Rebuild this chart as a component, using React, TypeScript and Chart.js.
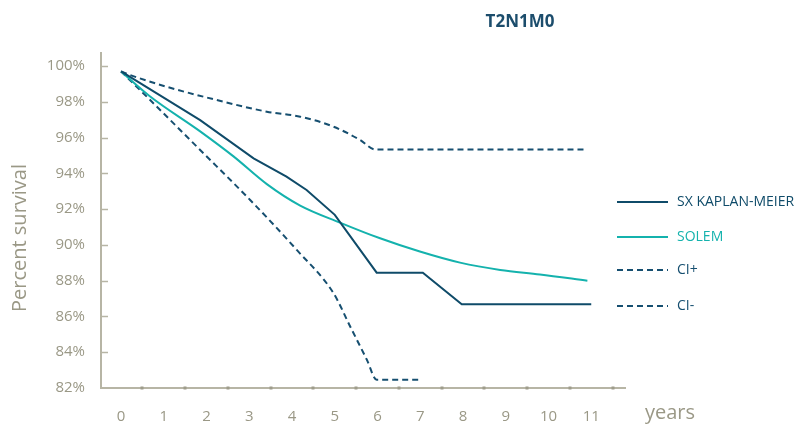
import React, { useEffect, useRef } from "react";
import { Chart, registerables } from "chart.js";

Chart.register(...registerables);

// ---------- data ----------
const kmYears = [0, 1.85, 3.1, 3.87, 4.34, 5.0, 5.98, 7.06, 7.97, 11.0];
const kmSurvival = [99.7, 96.98, 94.84, 93.82, 93.07, 91.68, 88.45, 88.45, 86.68, 86.68];

const solemYears = [0, 0.68, 1.85, 2.63, 3.41, 4.19, 5.12, 6.06, 6.99, 7.93, 8.87, 9.8, 10.91];
const solemSurvival = [99.7, 98.3, 96.35, 94.95, 93.4, 92.2, 91.25, 90.37, 89.63, 89.01, 88.6, 88.35, 88.0];

const ciPlusYears = [0, 0.21, 1.07, 2.24, 3.41, 4.19, 4.97, 5.59, 5.95, 10.91];
const ciPlusSurvival = [99.7, 99.5, 98.84, 98.1, 97.45, 97.17, 96.61, 95.87, 95.33, 95.33];

const ciMinusYears = [0, 0.68, 1.85, 3.02, 4.11, 4.97, 5.36, 5.75, 5.98, 6.98];
const ciMinusSurvival = [99.7, 98.1, 95.31, 92.51, 89.72, 87.3, 85.44, 83.58, 82.46, 82.46];

const seriesLabels = ["SX KAPLAN-MEIER", "SOLEM", "CI+", "CI-"];
const yTickValues = [82, 84, 86, 88, 90, 92, 94, 96, 98, 100];
const xTickValues = [0, 1, 2, 3, 4, 5, 6, 7, 8, 9, 10, 11];
const xDotValues = [0.5, 1.5, 2.5, 3.5, 4.5, 5.5, 6.5, 7.5, 8.5, 9.5, 10.5, 11.5];
const titleText = "T2N1M0";
const yTitleText = "Percent survival";
const xTitleText = "years";

// ---------- style ----------
const NAVY = "#0f4b69";
const CI_NAVY = "#164f70";
const TEAL = "#14b2ad";
const GRAY_TEXT = "#9a9886";
const AXIS = "#b7b5a5";
const DOT = "#9e9c8b";
const FONT = "'Open Sans', 'Noto Sans', sans-serif";

const toPoints = (xs: number[], ys: number[]) => xs.map((x, i) => ({ x, y: ys[i] }));

const decorPlugin = {
  id: "decor",
  afterDraw(chart: any) {
    const { ctx, chartArea } = chart;
    const x = chart.scales.x;
    const y = chart.scales.y;
    ctx.save();

    // inner y tick marks
    ctx.strokeStyle = AXIS;
    ctx.lineWidth = 1.5;
    yTickValues.forEach((v) => {
      if (v === 82) return;
      const py = Math.round(y.getPixelForValue(v)) + 0.5;
      ctx.beginPath();
      ctx.moveTo(chartArea.left + 1, py);
      ctx.lineTo(chartArea.left + 7, py);
      ctx.stroke();
    });

    // x axis dots
    ctx.fillStyle = DOT;
    xDotValues.forEach((v) => {
      const px = x.getPixelForValue(v);
      ctx.fillRect(Math.round(px) - 1.5, chartArea.bottom - 1.5, 3, 3);
    });

    // title
    ctx.fillStyle = "#1c4d6c";
    ctx.font = `bold 17px ${FONT}`;
    ctx.textAlign = "center";
    ctx.textBaseline = "middle";
    ctx.fillText(titleText, 520, 22);

    // y title
    ctx.save();
    ctx.translate(20, 238);
    ctx.rotate(-Math.PI / 2);
    ctx.fillStyle = GRAY_TEXT;
    ctx.font = `20px ${FONT}`;
    ctx.textAlign = "center";
    ctx.textBaseline = "middle";
    ctx.fillText(yTitleText, 0, 0);
    ctx.restore();

    // x title
    ctx.fillStyle = GRAY_TEXT;
    ctx.font = `20px ${FONT}`;
    ctx.textAlign = "left";
    ctx.textBaseline = "alphabetic";
    ctx.fillText(xTitleText, 645, 419);

    // legend
    const legendY = [202, 237, 270, 306];
    chart.data.datasets.forEach((ds: any, i: number) => {
      const ly = legendY[i];
      ctx.strokeStyle = ds.borderColor;
      ctx.lineWidth = 2;
      ctx.setLineDash(ds.borderDash || []);
      ctx.beginPath();
      ctx.moveTo(617, ly);
      ctx.lineTo(668, ly);
      ctx.stroke();
      ctx.setLineDash([]);
      ctx.fillStyle = ds.borderColor;
      ctx.font = `14px ${FONT}`;
      ctx.textAlign = "left";
      ctx.textBaseline = "middle";
      ctx.fillText(seriesLabels[i], 677, ly);
    });

    ctx.restore();
  },
};

export default function App() {
  const canvasRef = useRef<HTMLCanvasElement | null>(null);

  useEffect(() => {
    if (!canvasRef.current) return;
    const chart = new Chart(canvasRef.current, {
      type: "line",
      data: {
        datasets: [
          {
            label: seriesLabels[0],
            data: toPoints(kmYears, kmSurvival),
            borderColor: NAVY,
            borderWidth: 2,
            pointRadius: 0,
            tension: 0,
            fill: false,
          },
          {
            label: seriesLabels[1],
            data: toPoints(solemYears, solemSurvival),
            borderColor: TEAL,
            borderWidth: 2,
            pointRadius: 0,
            cubicInterpolationMode: "monotone",
            fill: false,
          },
          {
            label: seriesLabels[2],
            data: toPoints(ciPlusYears, ciPlusSurvival),
            borderColor: CI_NAVY,
            borderWidth: 2,
            borderDash: [6, 4],
            pointRadius: 0,
            cubicInterpolationMode: "monotone",
            fill: false,
          },
          {
            label: seriesLabels[3],
            data: toPoints(ciMinusYears, ciMinusSurvival),
            borderColor: CI_NAVY,
            borderWidth: 2,
            borderDash: [6, 4],
            pointRadius: 0,
            cubicInterpolationMode: "monotone",
            fill: false,
          },
        ],
      },
      options: {
        animation: false,
        responsive: false,
        maintainAspectRatio: false,
        layout: { padding: { left: 0, right: 182, top: 53, bottom: 0 } },
        plugins: {
          legend: { display: false },
          title: { display: false },
          tooltip: { enabled: false },
        },
        scales: {
          x: {
            type: "linear",
            min: -0.47,
            max: 11.79,
            afterBuildTicks: (scale: any) => {
              scale.ticks = xTickValues.map((v) => ({ value: v }));
            },
            afterFit: (scale: any) => {
              scale.height = 39;
            },
            grid: { display: false, drawTicks: false },
            border: { display: true, color: AXIS, width: 2 },
            ticks: {
              color: GRAY_TEXT,
              font: { family: FONT, size: 15 },
              padding: 20,
              maxRotation: 0,
              autoSkip: false,
              callback: (v: any) => String(v),
            },
          },
          y: {
            type: "linear",
            min: 82,
            max: 100.73,
            afterBuildTicks: (scale: any) => {
              scale.ticks = yTickValues.map((v) => ({ value: v }));
            },
            afterFit: (scale: any) => {
              scale.width = 101;
            },
            grid: { display: false, drawTicks: false },
            border: { display: true, color: AXIS, width: 2 },
            ticks: {
              color: GRAY_TEXT,
              font: { family: FONT, size: 15 },
              padding: 16,
              autoSkip: false,
              callback: (v: any) => `${v}%`,
            },
          },
        },
      },
      plugins: [decorPlugin],
    });
    return () => chart.destroy();
  }, []);

  return (
    <canvas
      ref={canvasRef}
      width={807}
      height={427}
      style={{ position: "absolute", left: 0, top: 0, display: "block", width: 807, height: 427 }}
    />
  );
}
